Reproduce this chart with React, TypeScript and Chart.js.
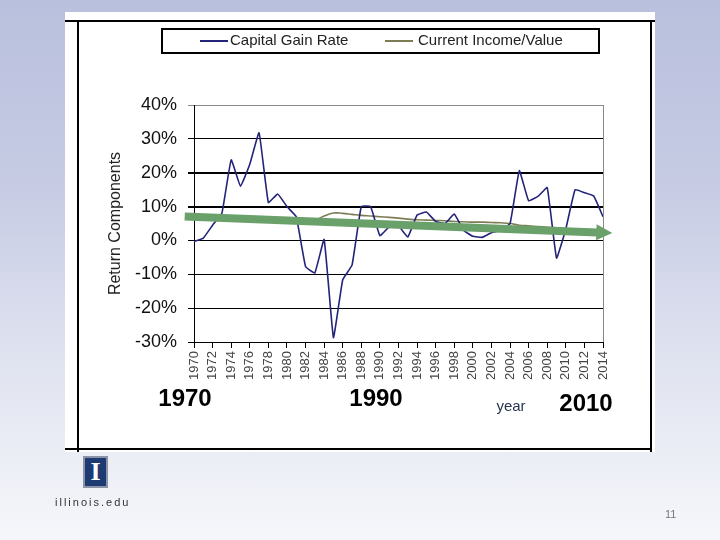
import { useEffect, useRef } from "react";
import { Chart, registerables } from "chart.js";

Chart.register(...registerables);

const years = [
  1970, 1971, 1972, 1973, 1974, 1975, 1976, 1977, 1978, 1979,
  1980, 1981, 1982, 1983, 1984, 1985, 1986, 1987, 1988, 1989,
  1990, 1991, 1992, 1993, 1994, 1995, 1996, 1997, 1998, 1999,
  2000, 2001, 2002, 2003, 2004, 2005, 2006, 2007, 2008, 2009,
  2010, 2011, 2012, 2013, 2014,
];

const capitalGainRate = [
  -0.3, 0.7, 4.5, 8.0, 23.8, 16.0, 22.5, 31.8, 11.2, 13.7,
  10.0, 7.0, -7.7, -9.6, 0.3, -28.7, -11.6, -7.3, 10.0, 10.0,
  1.4, 4.0, 4.3, 1.0, 7.5, 8.4, 5.6, 5.0, 7.8, 3.0,
  1.2, 0.9, 2.3, 2.9, 5.0, 20.6, 11.7, 13.0, 15.6, -5.2,
  3.4, 15.0, 14.1, 13.1, 7.0,
];

const currentIncome = [
  7.0, 6.9, 6.8, 6.7, 6.5, 6.4, 6.2, 6.0, 5.7, 5.4,
  5.2, 5.1, 5.2, 5.9, 7.2, 8.1, 8.0, 7.7, 7.4, 7.2,
  7.0, 6.8, 6.6, 6.3, 6.1, 6.0, 5.9, 5.8, 5.6, 5.5,
  5.4, 5.4, 5.3, 5.2, 5.0, 4.5, 4.3, 4.1, 3.9, 3.7,
  3.5, 3.3, 3.1, 3.0, 2.9,
];

const seriesNames = ["Capital Gain Rate", "Current Income/Value"];
const axisTitleY = "Return Components";
const axisTitleX = "year";
const eraLabels = ["1970", "1990", "2010"];

// trend arrow endpoints (year, value)
const arrowYears = [1969, 2015];
const arrowValues = [7.1, 2.2];

const NAVY = "#23237a";
const OLIVE = "#7d7d55";
const GREEN = "rgb(106,160,106)";
const FONT = "'Liberation Sans', Arial, sans-serif";

const overlayPlugin = {
  id: "overlay",
  afterDatasetsDraw(chart: any) {
    const { ctx, scales } = chart;
    const xs = scales.x;
    const ys = scales.y;
    const x0 = xs.getPixelForValue(arrowYears[0]);
    const y0 = ys.getPixelForValue(arrowValues[0]);
    const x1 = xs.getPixelForValue(arrowYears[1]);
    const y1 = ys.getPixelForValue(arrowValues[1]);
    const dx = x1 - x0;
    const dy = y1 - y0;
    const len = Math.hypot(dx, dy);
    const ux = dx / len;
    const uy = dy / len;
    const nx = -uy;
    const ny = ux;
    const headLen = 16;
    const headHalf = 8;
    const bx = x1 - ux * headLen;
    const by = y1 - uy * headLen;
    ctx.save();
    ctx.strokeStyle = GREEN;
    ctx.fillStyle = GREEN;
    ctx.lineWidth = 8;
    ctx.lineCap = "butt";
    ctx.beginPath();
    ctx.moveTo(x0, y0);
    ctx.lineTo(bx + ux, by + uy);
    ctx.stroke();
    ctx.beginPath();
    ctx.moveTo(x1, y1);
    ctx.lineTo(bx + nx * headHalf, by + ny * headHalf);
    ctx.lineTo(bx - nx * headHalf, by - ny * headHalf);
    ctx.closePath();
    ctx.fill();
    ctx.restore();
  },
  afterDraw(chart: any) {
    const { ctx } = chart;
    ctx.save();
    // legend box
    ctx.strokeStyle = "#000";
    ctx.lineWidth = 2;
    ctx.strokeRect(162, 29, 437, 24);
    ctx.lineWidth = 2;
    ctx.strokeStyle = NAVY;
    ctx.beginPath();
    ctx.moveTo(200, 41);
    ctx.lineTo(228, 41);
    ctx.stroke();
    ctx.strokeStyle = OLIVE;
    ctx.beginPath();
    ctx.moveTo(385, 41);
    ctx.lineTo(413, 41);
    ctx.stroke();
    ctx.fillStyle = "#222";
    ctx.font = `15px ${FONT}`;
    ctx.textBaseline = "middle";
    ctx.textAlign = "left";
    ctx.fillText(seriesNames[0], 230, 41);
    ctx.fillText(seriesNames[1], 418, 41);

    // x axis title
    ctx.fillStyle = "#27364f";
    ctx.font = `15px ${FONT}`;
    ctx.textAlign = "center";
    ctx.textBaseline = "alphabetic";
    ctx.fillText(axisTitleX, 511, 411);

    // era labels
    ctx.fillStyle = "#000";
    ctx.font = `bold 24px ${FONT}`;
    const spots = [
      [185, 406],
      [376, 406],
      [586, 411],
    ];
    eraLabels.forEach((t, i) => ctx.fillText(t, spots[i][0], spots[i][1]));
    ctx.restore();
  },
};

export default function App() {
  const ref = useRef<HTMLCanvasElement>(null);

  useEffect(() => {
    if (!ref.current) return;
    const chart = new Chart(ref.current, {
      type: "line",
      data: {
        datasets: [
          {
            label: seriesNames[0],
            data: years.map((yr, i) => ({ x: yr, y: capitalGainRate[i] })),
            borderColor: NAVY,
            borderWidth: 1.6,
            pointRadius: 0,
            tension: 0.1,
            fill: false,
          },
          {
            label: seriesNames[1],
            data: years.map((yr, i) => ({ x: yr, y: currentIncome[i] })),
            borderColor: OLIVE,
            borderWidth: 1.6,
            pointRadius: 0,
            tension: 0.4,
            fill: false,
          },
        ],
      },
      options: {
        responsive: false,
        animation: false,
        devicePixelRatio: 1,
        events: [],
        layout: { padding: { left: 100, right: 117, top: 105, bottom: 138 } },
        plugins: {
          legend: { display: false },
          tooltip: { enabled: false },
        },
        scales: {
          x: {
            type: "linear",
            min: 1970,
            max: 2014,
            afterFit: (s: any) => {
              s.height = 60;
            },
            border: { display: true, color: "#000", width: 1 },
            grid: {
              drawOnChartArea: true,
              color: (c: any) => (c.tick && c.tick.value === 2014 ? "#8a8a8a" : "rgba(0,0,0,0)"),
              tickColor: "#000",
              tickLength: 6,
              lineWidth: 1,
            },
            ticks: {
              stepSize: 2,
              maxTicksLimit: 100,
              autoSkip: false,
              minRotation: 90,
              maxRotation: 90,
              padding: 3,
              color: "#444",
              font: { family: FONT, size: 13 },
              callback: (v: any) => String(v),
            },
          },
          y: {
            min: -30,
            max: 40,
            afterFit: (s: any) => {
              s.width = 94;
            },
            border: { display: true, color: "#000", width: 1 },
            grid: {
              color: (c: any) => (c.tick && c.tick.value === 40 ? "#8a8a8a" : "#000"),
              lineWidth: (c: any) =>
                c.tick && (c.tick.value === 10 || c.tick.value === 20) ? 2 : 1,
              tickLength: 6,
            },
            ticks: {
              stepSize: 10,
              padding: 11,
              color: "#111",
              font: { family: FONT, size: 18 },
              callback: (v: any) => `${v}%`,
            },
            title: {
              display: true,
              text: axisTitleY,
              color: "#222",
              font: { family: FONT, size: 16 },
              padding: { top: 6, bottom: 0 },
            },
          },
        },
      },
      plugins: [overlayPlugin],
    });
    return () => chart.destroy();
  }, []);

  return (
    <div
      style={{
        position: "absolute",
        left: 0,
        top: 0,
        width: 720,
        height: 540,
        overflow: "hidden",
        background:
          "linear-gradient(180deg, #b9c0dd 0%, #c7cce4 35%, #e2e5f1 70%, #f6f7fb 100%)",
        fontFamily: FONT,
      }}
    >
      <div style={{ position: "absolute", left: 65, top: 12, width: 590, height: 440, background: "#fff" }} />
      <div style={{ position: "absolute", left: 65, top: 20, width: 590, height: 2, background: "#000" }} />
      <div style={{ position: "absolute", left: 77, top: 20, width: 2, height: 432, background: "#000" }} />
      <div style={{ position: "absolute", left: 650, top: 20, width: 2, height: 432, background: "#000" }} />
      <div style={{ position: "absolute", left: 65, top: 448, width: 587, height: 2, background: "#000" }} />
      <canvas
        ref={ref}
        width={720}
        height={540}
        style={{ position: "absolute", left: 0, top: 0, width: 720, height: 540 }}
      />
      <div
        style={{
          position: "absolute",
          left: 83,
          top: 456,
          width: 25,
          height: 32,
          boxSizing: "border-box",
          border: "2px solid #8d93a6",
          background: "#1d3b72",
          color: "#fff",
          fontFamily: "'Liberation Serif', serif",
          fontWeight: "bold",
          fontSize: 26,
          lineHeight: "28px",
          textAlign: "center",
        }}
      >
        I
      </div>
      <div
        style={{
          position: "absolute",
          left: 55,
          top: 496,
          fontSize: 11,
          letterSpacing: 2,
          color: "#333",
        }}
      >
        illinois.edu
      </div>
      <div style={{ position: "absolute", left: 665, top: 508, fontSize: 11, color: "#777" }}>11</div>
    </div>
  );
}
